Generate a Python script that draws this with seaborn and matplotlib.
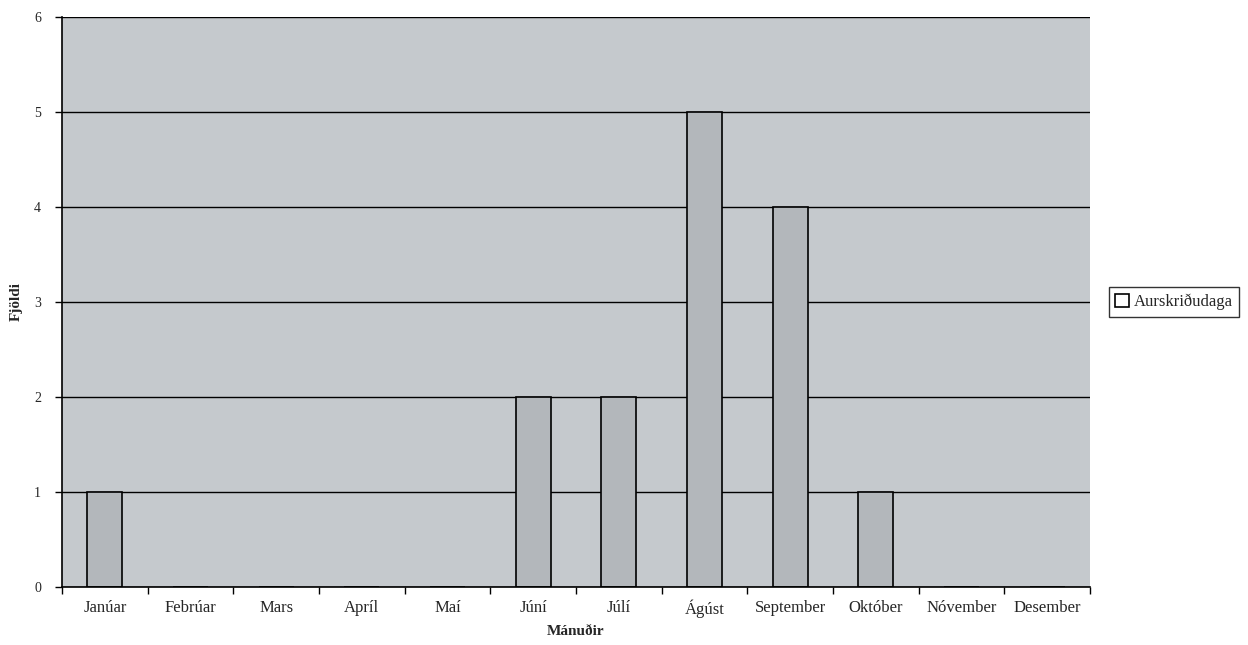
import matplotlib
matplotlib.use("Agg")
import matplotlib.pyplot as plt
import seaborn as sns
import pandas as pd
import numpy as np
from matplotlib.ticker import FixedLocator

months = ["Janúar", "Febrúar", "Mars", "Apríl", "Maí", "Júní", "Júlí",
          "Ágúst", "September", "Október", "Nóvember", "Desember"]
counts = [1, 0, 0, 0, 0, 2, 2, 5, 4, 1, 0, 0]
series = "Aurskriðudaga"

df = pd.DataFrame({"month": months, "count": counts, "series": series})

sns.set_style("white")
plt.rcParams["font.family"] = ["Liberation Serif", "DejaVu Serif"]

fig = plt.figure(figsize=(12.48, 6.45), dpi=100)
ax = fig.add_axes([0.0497, 0.0899, 0.8237, 0.8837])
ax.set_facecolor("#c5c9cd")

sns.barplot(data=df, x="month", y="count", hue="series", ax=ax,
            palette=["#b3b7bb"], edgecolor="black", linewidth=1.2,
            width=0.41, saturation=1)

ax.set_ylim(0, 6)
ax.set_xlim(-0.5, 11.5)
ax.set_yticks(range(0, 7))
ax.yaxis.grid(True, color="black", linewidth=1.0)
ax.set_axisbelow(True)
for s in ["top", "right"]:
    ax.spines[s].set_visible(False)
ax.spines["left"].set_color("black")
ax.spines["bottom"].set_color("black")
ax.spines["left"].set_linewidth(1.2)
ax.spines["bottom"].set_linewidth(1.2)

ax.tick_params(axis="x", which="major", length=0, pad=9, labelsize=12)
ax.xaxis.set_minor_locator(FixedLocator(np.arange(-0.5, 12, 1)))
ax.tick_params(axis="x", which="minor", bottom=True, length=5, width=1,
               direction="out", color="black")
ax.tick_params(axis="y", length=5, width=1, direction="out", color="black",
               labelsize=10, left=True, pad=10)

ax.set_xlabel("Mánuðir", fontsize=11, fontweight="bold", labelpad=5)
ax.set_ylabel("Fjöldi", fontsize=11, fontweight="bold", labelpad=8)

leg = ax.legend(loc="center left", bbox_to_anchor=(1.01, 0.5), frameon=True,
                fancybox=False, edgecolor="black", fontsize=12,
                handlelength=0.8, handleheight=0.8, handletextpad=0.3,
                borderpad=0.4, title=None)
leg.get_frame().set_linewidth(1.0)
for h in leg.legend_handles:
    h.set_facecolor("white")
    h.set_edgecolor("black")

fig.savefig("out.png", dpi=100)
